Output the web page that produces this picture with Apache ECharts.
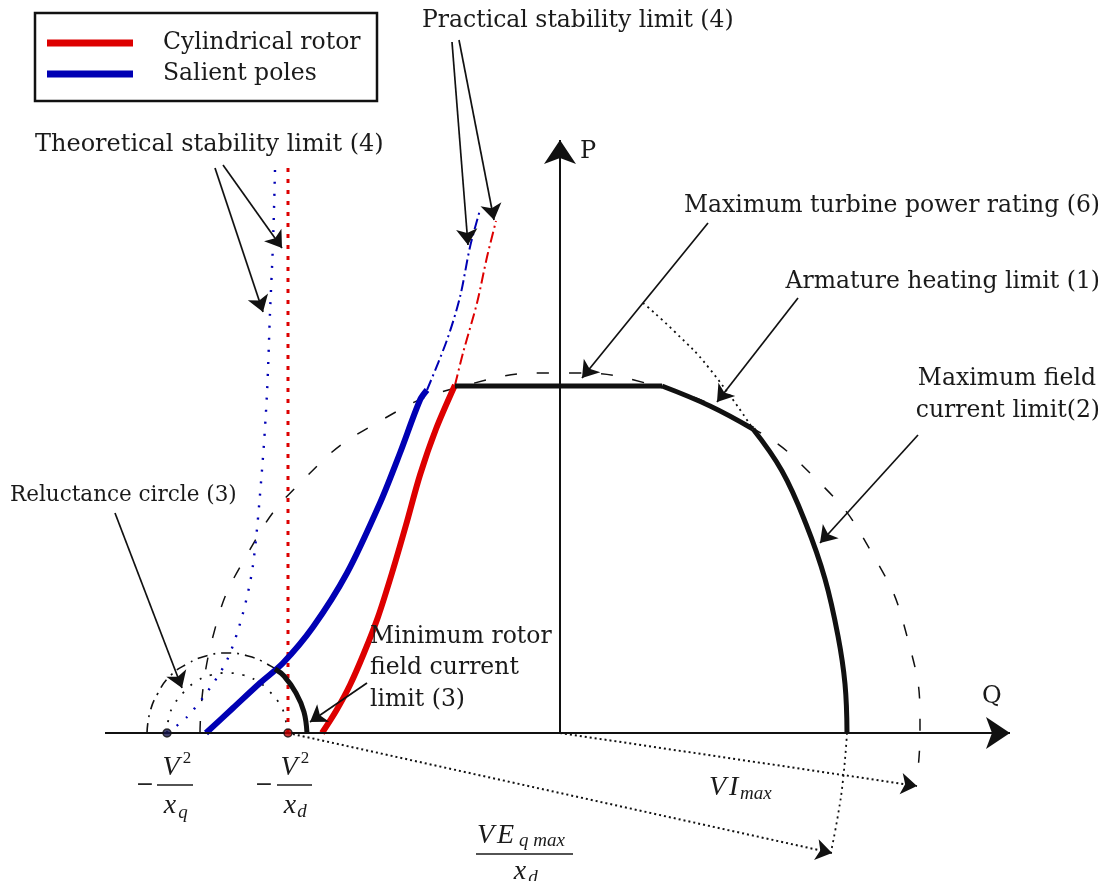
<!DOCTYPE html>
<html>
<head>
<meta charset="utf-8">
<script src="https://cdn.jsdelivr.net/npm/echarts@6/dist/echarts.min.js"></script>
<style>
  html, body { margin: 0; padding: 0; background: #fff; }
  #chart { width: 1107px; height: 881px; }
</style>
</head>
<body>
<div id="chart"></div>
<script>
// points are [Q, P] in diagram units, origin at the axes crossing
const bigCircle = [[-360,0],[-348,93],[-312,180],[-255,255],[-180,312],[-93,348],[0,360],[93,348],[180,312],[255,255],[312,180],[348,93],[360,0],[357,-45]];
const fieldDottedUp = [[83,430],[115,401],[149,365],[193,304]];
const fieldDottedDown = [[287,0],[283,-47],[278,-82],[271,-119]];
const turbineLimit = [[-105,347],[102,347]];
const armatureLimit = [[102,347],[150,327],[193,304]];
const fieldLimit = [[193,304],[222,262],[246,209],[265,154],[278,97],[285,49],[287,0]];
const minFieldLimit = [[-285,64],[-276,57],[-264,40],[-256,21],[-253,0]];
const reluctanceCircle = [[-413,0],[-410,21],[-402,40],[-390,57],[-373,69],[-354,77],[-333,80],[-312,77],[-293,69],[-276,57],[-264,40],[-256,21],[-253,0]];
const innerCircle = [[-393,0],[-391,16],[-385,30],[-375,42],[-363,52],[-349,58],[-333,60],[-317,58],[-303,52],[-291,42],[-281,30],[-275,16],[-273,0]];
const cylPractical = [[-238,0],[-224,22],[-210,48],[-196,80],[-182,116],[-168,160],[-154,208],[-140,258],[-124,304],[-105,348]];
const cylPracticalExt = [[-105,348],[-97,380],[-83,430],[-73,476],[-64,512]];
const salPractical = [[-354,0],[-327,25],[-300,50],[-277,70],[-247,106],[-213,160],[-180,230],[-160,280],[-140,333],[-133,343]];
const salPracticalExt = [[-133,343],[-113,393],[-100,436],[-90,486],[-80,523]];
const salTheoretical = [[-393,0],[-373,16],[-350,45],[-332,75],[-317,120],[-307,168],[-298,263],[-293,340],[-290,420],[-287,490],[-285,563]];
const cylTheoretical = [[-272,0],[-272,568]];
const axisLines = [[[-455,0],[450,0]], [[0,0],[0,593]]];
const radiusArrows = [[[0,0],[357,-53]], [[-272,0],[272,-120]]];
const pointerArrows = [
  [[-108,691],[-92,488]], [[-101,693],[-66,513]],
  [[-345,565],[-297,421]], [[-337,568],[-278,485]],
  [[148,510],[22,355]], [[238,435],[157,331]], [[358,298],[260,190]],
  [[-445,220],[-378,45]], [[-193,50],[-250,11]]
];
const specialPoints = [[-393,0],[-272,0]];

const RED = '#dd0000';
const BLUE = '#0000b4';
const INK = '#111';
const FONT = '"DejaVu Serif"';
const MATH = '"Liberation Serif"';

function curve(data, color, width, type, smooth, name, z) {
  return {
    type: 'line', name: name, data: data, smooth: smooth, symbol: 'none',
    silent: true, z: z || 2,
    itemStyle: { color: color },
    lineStyle: { color: color, width: width, type: type }
  };
}
function arrows(list, width, type, size, z) {
  return {
    type: 'lines', coordinateSystem: 'cartesian2d', silent: true, z: z || 5,
    symbol: ['none', 'arrow'], symbolSize: size,
    lineStyle: { color: INK, width: width, type: type, opacity: 1 },
    data: list.map(c => ({ coords: c }))
  };
}
function txt(x, y, text, font, align) {
  return {
    type: 'text', x: x, y: y, silent: true, z: 100,
    style: { text: text, font: font, fill: '#1a1a1a',
      align: align || 'left', verticalAlign: 'middle',
      textAlign: align || 'left', textVerticalAlign: 'middle' }
  };
}
function bar(x1, x2, y) {
  return { type: 'line', silent: true, z: 100,
    shape: { x1: x1, y1: y, x2: x2, y2: y }, style: { stroke: '#1a1a1a', lineWidth: 1.4 } };
}

const chart = echarts.init(document.getElementById('chart'));
const lbl = '23.5px ' + FONT;
const mv = 'italic 28px ' + MATH;
const ms = 'italic 19px ' + MATH;
chart.setOption({
  animation: false,
  backgroundColor: '#fff',
  grid: { left: 0, right: 0, top: 0, bottom: 0 },
  xAxis: { type: 'value', min: -560, max: 547, show: false },
  yAxis: { type: 'value', min: -148, max: 733, show: false },
  legend: {
    data: ['Cylindrical rotor', 'Salient poles'],
    orient: 'vertical', left: 42, top: 26, icon: 'rect',
    itemWidth: 86, itemHeight: 7, itemGap: 7, selectedMode: false,
    textStyle: { fontFamily: FONT, fontSize: 23.5, lineHeight: 22, color: '#1a1a1a', padding: [0, 0, 0, 25] }
  },
  series: [
    curve(bigCircle, INK, 1.5, [12, 20], true),
    curve(fieldDottedUp, INK, 1.8, [2, 4], true),
    curve(fieldDottedDown, INK, 1.8, [2, 4], true),
    curve(reluctanceCircle, INK, 1.6, [10, 6, 2, 6], true),
    curve(innerCircle, INK, 1.8, [2, 9], true),
    curve(salTheoretical, BLUE, 2.4, [2, 10], 0.3),
    curve(cylTheoretical, RED, 3, [4, 7], false),
    curve(salPracticalExt, BLUE, 2, [11, 4, 2, 4], 0.3),
    curve(cylPracticalExt, RED, 2, [11, 4, 2, 4], 0.3),
    curve(salPractical, BLUE, 6, 'solid', 0.3, 'Salient poles', 4),
    curve(cylPractical, RED, 6, 'solid', 0.3, 'Cylindrical rotor', 4),
    curve(turbineLimit, INK, 5, 'solid', false, null, 6),
    curve(armatureLimit, INK, 5, 'solid', 0.4, null, 6),
    curve(fieldLimit, INK, 5, 'solid', 0.4, null, 6),
    curve(minFieldLimit, INK, 5, 'solid', 0.4, null, 6),
    arrows(axisLines, 2, 'solid', [14, 24], 7),
    arrows(pointerArrows, 1.7, 'solid', [11, 16], 8),
    arrows(radiusArrows, 2, [2, 3], [10, 16], 8),
    {
      type: 'scatter', data: specialPoints, symbol: 'circle', symbolSize: 8, silent: true, z: 9,
      itemStyle: {
        color: function (p) { return p.dataIndex === 0 ? '#14144a' : '#c00000'; },
        borderColor: '#111', borderWidth: 1.5
      }
    }
  ],
  graphic: [
    { type: 'rect', silent: true, shape: { x: 35, y: 13, width: 342, height: 88 },
      style: { fill: 'none', stroke: '#111', lineWidth: 2.5 } },
    txt(422, 21, 'Practical stability limit (4)', lbl),
    txt(35, 145, 'Theoretical stability limit (4)', '24px ' + FONT),
    txt(1100, 206, 'Maximum turbine power rating (6)', lbl, 'right'),
    txt(1100, 282, 'Armature heating limit (1)', lbl, 'right'),
    txt(1096, 379, 'Maximum field', lbl, 'right'),
    txt(1100, 411, 'current limit(2)', lbl, 'right'),
    txt(10, 495, 'Reluctance circle (3)', '21.5px ' + FONT),
    txt(370, 637, 'Minimum rotor', lbl),
    txt(370, 668, 'field current', lbl),
    txt(370, 700, 'limit (3)', lbl),
    txt(580, 152, 'P', '24px ' + FONT),
    txt(982, 697, 'Q', '24px ' + FONT),
    // -V^2/x_q
    txt(145, 785, '\u2212', '22px ' + FONT, 'center'),
    bar(157, 193, 785),
    txt(171, 768, 'V', mv, 'center'),
    txt(187, 759, '2', '17px ' + MATH, 'center'),
    txt(170, 806, 'x', mv, 'center'),
    txt(183, 813, 'q', ms, 'center'),
    // -V^2/x_d
    txt(264, 785, '\u2212', '22px ' + FONT, 'center'),
    bar(277, 312, 785),
    txt(289, 768, 'V', mv, 'center'),
    txt(305, 759, '2', '17px ' + MATH, 'center'),
    txt(290, 806, 'x', mv, 'center'),
    txt(302, 812, 'd', ms, 'center'),
    // V E_qmax / x_d
    bar(476, 573, 854),
    txt(477, 836, 'V', mv),
    txt(497, 836, 'E', mv),
    txt(519, 841, 'q max', ms),
    txt(520, 872, 'x', mv, 'center'),
    txt(533, 878, 'd', ms, 'center'),
    // V I_max
    txt(709, 788, 'V', mv),
    txt(729, 788, 'I', mv),
    txt(740, 794, 'max', ms)
  ]
});
</script>
</body>
</html>
